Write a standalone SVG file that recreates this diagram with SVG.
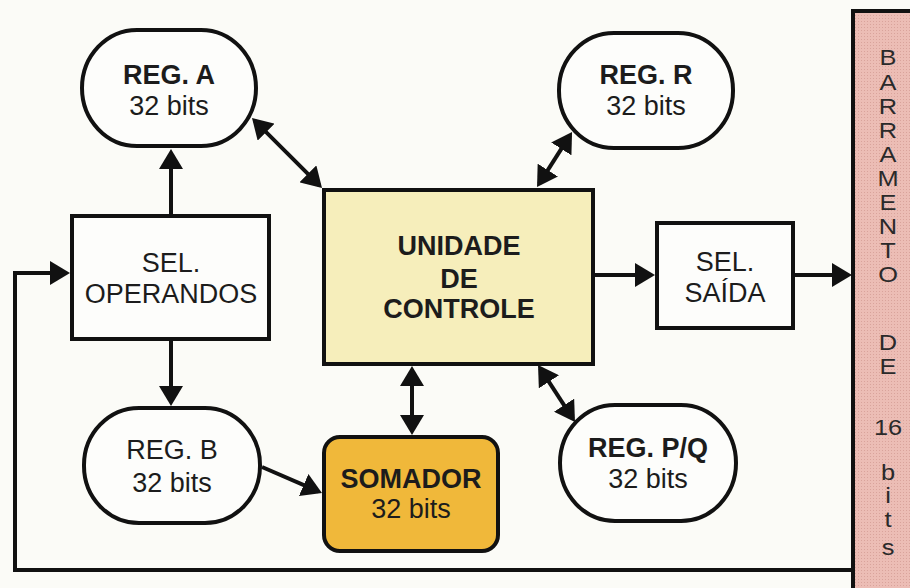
<svg xmlns="http://www.w3.org/2000/svg" width="910" height="588" viewBox="0 0 910 588">
  <defs>
    <marker id="head" viewBox="0 0 20 24" refX="16" refY="12" markerWidth="20" markerHeight="24" markerUnits="userSpaceOnUse" orient="auto-start-reverse">
      <path d="M0,0 L20,12 L0,24 Z" fill="#111"/>
    </marker>
    <pattern id="dots" width="3" height="3" patternUnits="userSpaceOnUse">
      <rect width="3" height="3" fill="#ecbdb5"/>
      <rect width="1" height="1" fill="#d9a39b"/>
    </pattern>
  </defs>
  <style>
    .bg { fill: #fbfbf7; }
    .shape { stroke: #111; stroke-width: 4; }
    .plain { fill: #fdfdfb; }
    .t { font-family: "Liberation Sans", Arial, sans-serif; font-size: 27px; fill: #1c1c1c; text-anchor: middle; }
    .b { font-weight: bold; }
    .bus { font-family: "Liberation Sans", Arial, sans-serif; font-size: 21.5px; fill: #2a2a2a; text-anchor: middle; }
    .wire { fill: none; stroke: #111; stroke-width: 4; }
  </style>

  <rect class="bg" width="910" height="588"/>

  <!-- data bus strip on the right, label written one glyph per line -->
  <g id="barramento">
    <rect x="853" y="11" width="70" height="590" fill="url(#dots)" class="shape"/>
    <g transform="translate(888 0) scale(1.18 1)">
      <text class="bus" x="0" y="65">B</text>
      <text class="bus" x="0" y="90">A</text>
      <text class="bus" x="0" y="114">R</text>
      <text class="bus" x="0" y="138">R</text>
      <text class="bus" x="0" y="162">A</text>
      <text class="bus" x="0" y="186">M</text>
      <text class="bus" x="0" y="210">E</text>
      <text class="bus" x="0" y="234">N</text>
      <text class="bus" x="0" y="258">T</text>
      <text class="bus" x="0" y="282">O</text>
      <text class="bus" x="0" y="350">D</text>
      <text class="bus" x="0" y="374">E</text>
      <text class="bus" x="0" y="435">16</text>
      <text class="bus" x="0" y="480">b</text>
      <text class="bus" x="0" y="503">i</text>
      <text class="bus" x="0" y="527">t</text>
      <text class="bus" x="0" y="555">s</text>
    </g>
  </g>

  <!-- connectors -->
  <g id="connectors">
    <line class="wire" x1="171" y1="214" x2="171" y2="153" marker-end="url(#head)"/>
    <line class="wire" x1="171" y1="341" x2="171" y2="402" marker-end="url(#head)"/>
    <line class="wire" x1="254.8" y1="120.8" x2="319.2" y2="185.2" marker-start="url(#head)" marker-end="url(#head)"/>
    <line class="wire" x1="569.9" y1="135.4" x2="539.2" y2="183.6" marker-start="url(#head)" marker-end="url(#head)"/>
    <line class="wire" x1="540.2" y1="368.4" x2="572.8" y2="418.6" marker-start="url(#head)" marker-end="url(#head)"/>
    <line class="wire" x1="412" y1="370" x2="412" y2="431" marker-start="url(#head)" marker-end="url(#head)"/>
    <line class="wire" x1="262" y1="467" x2="318.3" y2="491.4" marker-end="url(#head)"/>
    <line class="wire" x1="595" y1="275" x2="651" y2="275" marker-end="url(#head)"/>
    <line class="wire" x1="795" y1="275" x2="848" y2="275" marker-end="url(#head)"/>
    <path class="wire" d="M853,570 H15 V273 H66" marker-end="url(#head)"/>
  </g>

  <g id="reg-a">
    <rect class="shape plain" x="82" y="30" width="174" height="116" rx="55" ry="58"/>
    <text class="t b" x="169" y="84">REG. A</text>
    <text class="t" x="169" y="115">32 bits</text>
  </g>

  <g id="reg-r">
    <rect class="shape plain" x="559" y="33" width="174" height="115" rx="55" ry="57"/>
    <text class="t b" x="646" y="84">REG. R</text>
    <text class="t" x="646" y="115">32 bits</text>
  </g>

  <g id="sel-operandos">
    <rect class="shape plain" x="72" y="216" width="197" height="123"/>
    <text class="t" x="171" y="272">SEL.</text>
    <text class="t" x="171" y="303">OPERANDOS</text>
  </g>

  <g id="unidade-controle">
    <rect class="shape" fill="#f6eebb" x="324" y="190" width="269" height="174"/>
    <text class="t b" x="459" y="255">UNIDADE</text>
    <text class="t b" x="459" y="288">DE</text>
    <text class="t b" x="459" y="318">CONTROLE</text>
  </g>

  <g id="sel-saida">
    <rect class="shape plain" x="657" y="223" width="136" height="105"/>
    <text class="t" x="725" y="271">SEL.</text>
    <text class="t" x="725" y="302">SAÍDA</text>
  </g>

  <g id="reg-b">
    <rect class="shape plain" x="84" y="408" width="176" height="115" rx="55" ry="57"/>
    <text class="t" x="172" y="459">REG. B</text>
    <text class="t" x="172" y="492">32 bits</text>
  </g>

  <g id="somador">
    <rect class="shape" fill="#f0b83a" x="324" y="437" width="174" height="114" rx="16"/>
    <text class="t b" x="411" y="488">SOMADOR</text>
    <text class="t" x="411" y="518">32 bits</text>
  </g>

  <g id="reg-pq">
    <rect class="shape plain" x="560" y="405" width="176" height="116" rx="55" ry="58"/>
    <text class="t b" x="648" y="457">REG. P/Q</text>
    <text class="t" x="648" y="488">32 bits</text>
  </g>
</svg>
